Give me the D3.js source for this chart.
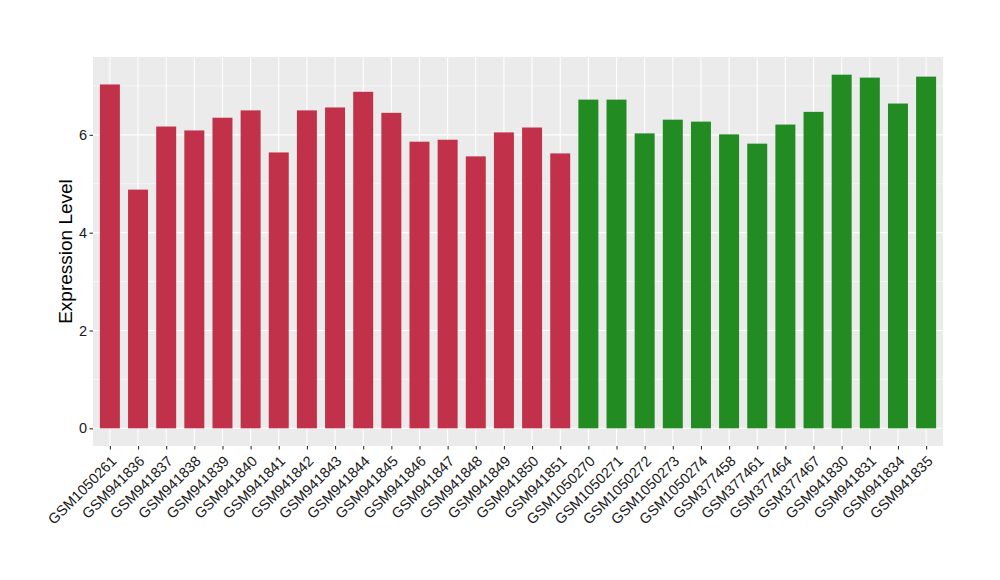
<!DOCTYPE html>
<html>
<head>
<meta charset="utf-8">
<script src="https://cdn.jsdelivr.net/npm/d3@7"></script>
<style>
body { margin: 0; background: #fff; }
svg { display: block; }
text { font-family: "Liberation Sans", Arial, Helvetica, sans-serif; }
</style>
</head>
<body>
<svg id="chart" width="1000" height="580"></svg>
<script>
const samples = ["GSM1050261","GSM941836","GSM941837","GSM941838","GSM941839","GSM941840","GSM941841","GSM941842","GSM941843","GSM941844","GSM941845","GSM941846","GSM941847","GSM941848","GSM941849","GSM941850","GSM941851","GSM1050270","GSM1050271","GSM1050272","GSM1050273","GSM1050274","GSM377458","GSM377461","GSM377464","GSM377467","GSM941830","GSM941831","GSM941834","GSM941835"];
const values = [7.03,4.88,6.17,6.09,6.35,6.50,5.64,6.50,6.56,6.88,6.45,5.86,5.90,5.56,6.05,6.15,5.62,6.72,6.72,6.03,6.31,6.27,6.01,5.82,6.21,6.47,7.23,7.17,6.64,7.19];
const groups = ["A","A","A","A","A","A","A","A","A","A","A","A","A","A","A","A","A","B","B","B","B","B","B","B","B","B","B","B","B","B"];
const groupColors = {A: "#C2314A", B: "#228B22"};
const yTicks = [0, 2, 4, 6];
const yMinor = [1, 3, 5, 7];

const svg = d3.select("#chart");
const panel = {left: 93, right: 943, top: 57, bottom: 446};

const maxV = d3.max(values);
const expandY = maxV * 0.05;
const y = d3.scaleLinear().domain([-expandY, maxV + expandY]).range([panel.bottom, panel.top]);

const n = samples.length;
const step = (panel.right - panel.left) / (n - 1 + 1.2);
const x = d3.scalePoint().domain(samples).range([panel.left + 0.6 * step, panel.right - 0.6 * step]);
const barW = step * 0.71;

svg.append("rect").attr("x", panel.left).attr("y", panel.top)
  .attr("width", panel.right - panel.left).attr("height", panel.bottom - panel.top)
  .attr("fill", "#EBEBEB");

const g = svg.append("g");
g.selectAll("line.minor").data(yMinor).enter().append("line")
  .attr("x1", panel.left).attr("x2", panel.right)
  .attr("y1", d => y(d)).attr("y2", d => y(d))
  .attr("stroke", "#fff").attr("stroke-width", 0.55);
g.selectAll("line.major").data(yTicks).enter().append("line")
  .attr("x1", panel.left).attr("x2", panel.right)
  .attr("y1", d => y(d)).attr("y2", d => y(d))
  .attr("stroke", "#fff").attr("stroke-width", 1.1);
g.selectAll("line.vmajor").data(samples).enter().append("line")
  .attr("x1", d => x(d)).attr("x2", d => x(d))
  .attr("y1", panel.top).attr("y2", panel.bottom)
  .attr("stroke", "#fff").attr("stroke-width", 1.1);

svg.selectAll("rect.bar").data(samples).enter().append("rect")
  .attr("x", d => x(d) - barW / 2)
  .attr("width", barW)
  .attr("y", (d, i) => y(values[i]))
  .attr("height", (d, i) => y(0) - y(values[i]))
  .attr("fill", (d, i) => groupColors[groups[i]]);

// Y axis
const yAxis = d3.axisLeft(y).tickValues(yTicks).tickSize(3.5).tickPadding(2.5).tickFormat(d3.format("d"));
const ya = svg.append("g").attr("transform", `translate(${panel.left},0)`).call(yAxis);
ya.select(".domain").remove();
ya.selectAll(".tick line").attr("stroke", "#333").attr("stroke-width", 1.1);
ya.selectAll(".tick text").attr("fill", "#1a1a1a").style("font-size", "14.5px");

// X axis
const xAxis = d3.axisBottom(x).tickSize(3.5).tickPadding(0);
const xa = svg.append("g").attr("transform", `translate(0,${panel.bottom})`).call(xAxis);
xa.select(".domain").remove();
xa.selectAll(".tick line").attr("stroke", "#333").attr("stroke-width", 1.1);
xa.selectAll(".tick text")
  .attr("fill", "#1a1a1a").style("font-size", "14.5px")
  .attr("text-anchor", "end")
  .attr("y", 0).attr("dy", 0)
  .attr("transform", "translate(7,16) rotate(-45)");

svg.append("text")
  .attr("transform", `translate(72,${(panel.top + panel.bottom) / 2}) rotate(-90)`)
  .attr("text-anchor", "middle")
  .attr("fill", "#000")
  .style("font-size", "19px")
  .text("Expression Level");
</script>
</body>
</html>
